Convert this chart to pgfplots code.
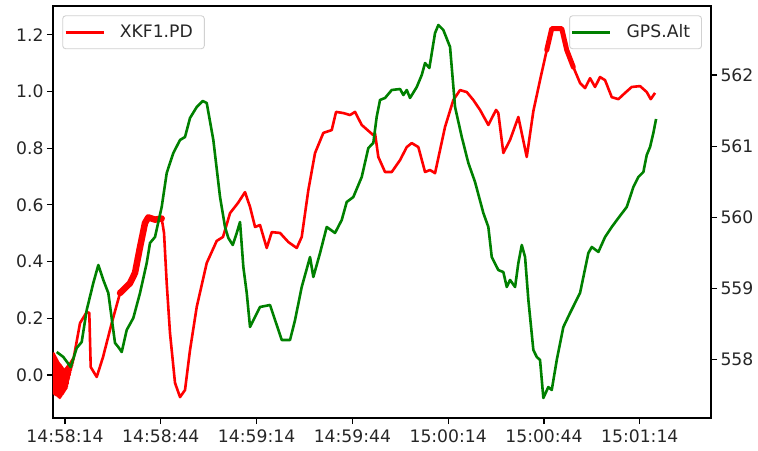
\documentclass[border=0pt]{standalone}
\usepackage{pgfplots}
\pgfplotsset{compat=1.18}
\usepackage{fontspec}
\setmainfont{DejaVu Sans}

\definecolor{mplgreen}{HTML}{008000}

% XKF1.PD, seconds after 14:58:14
\pgfplotstableread{
t v
-3.7 0.080
-3.6 -0.065
-3.5 0.0755
-3.4 -0.067
-3.3 0.071
-3.2 -0.068
-3.1 0.067
-3.0 -0.070
-2.9 0.063
-2.8 -0.071
-2.7 0.059
-2.6 -0.072
-2.5 0.054
-2.4 -0.073
-2.3 0.050
-2.2 -0.075
-2.1 0.046
-2.0 -0.078
-1.9 0.043
-1.8 -0.079
-1.7 0.040
-1.6 -0.081
-1.5 0.037
-1.4 -0.078
-1.3 0.034
-1.2 -0.075
-1.1 0.031
-1.0 -0.071
-0.9 0.028
-0.8 -0.068
-0.7 0.025
-0.6 -0.065
-0.5 0.022
-0.4 -0.061
-0.3 0.019
-0.2 -0.058
-0.1 0.019
0.0 -0.054
0.1 0.022
0.2 -0.051
0.3 0.025
0.4 -0.048
0.5 0.027
0.6 -0.041
0.7 0.030
0.8 -0.031
0.9 0.033
1.0 -0.018
1.1 0.036
1.2 -0.011
1.3 0.038
1.4 -0.001
1.5 0.041
1.6 0.008
1.7 0.044
1.8 0.017
1.9 0.048
2.0 0.025
2.1 0.051
2.2 0.033
2.3 0.055
2.4 0.042
2.5 0.058
2.60 0.053
4.70 0.183
6.80 0.222
7.61 0.219
8.05 0.028
9.93 -0.007
11.90 0.063
14.63 0.183
17.23 0.289
20.36 0.324
21.92 0.360
23.49 0.451
25.05 0.536
26.09 0.556
28.20 0.548
30.28 0.552
31.01 0.501
31.85 0.324
32.88 0.148
34.45 -0.028
36.02 -0.078
37.58 -0.053
39.15 0.088
41.25 0.240
44.38 0.395
47.51 0.473
49.48 0.487
51.68 0.571
54.18 0.607
56.37 0.645
57.94 0.593
59.51 0.522
61.07 0.529
63.17 0.448
64.74 0.504
67.34 0.501
69.94 0.469
72.57 0.448
74.13 0.487
76.20 0.652
78.30 0.783
80.90 0.854
83.53 0.864
84.88 0.928
87.16 0.924
89.26 0.917
90.82 0.928
92.92 0.882
96.55 0.846
97.08 0.853
98.12 0.769
100.22 0.716
102.32 0.716
104.92 0.758
107.02 0.804
108.58 0.818
110.65 0.804
112.75 0.716
114.31 0.723
115.88 0.712
119.01 0.875
121.61 0.970
123.71 1.005
125.81 0.998
127.87 0.970
129.97 0.935
132.57 0.882
134.98 0.935
135.70 0.924
137.27 0.783
139.37 0.829
141.97 0.910
144.60 0.769
146.67 0.931
148.76 1.040
150.86 1.146
152.43 1.222
155.56 1.222
157.13 1.146
159.19 1.086
161.29 1.030
162.86 1.012
164.42 1.047
165.99 1.016
167.55 1.051
169.12 1.040
171.22 0.980
173.29 0.973
175.38 0.995
177.48 1.016
180.08 1.019
182.18 0.998
183.43 0.973
184.78 0.995
}\pdtable

% GPS.Alt, seconds after 14:58:14
\pgfplotstableread{
t a
-2.60 558.108
-0.53 558.038
1.79 557.897
3.66 558.164
5.23 558.249
6.80 558.698
8.86 559.077
10.43 559.330
12.00 559.119
13.56 558.937
15.66 558.235
16.69 558.178
17.76 558.108
19.32 558.417
21.39 558.585
23.49 558.937
25.59 559.358
26.62 559.639
28.19 559.724
30.28 560.145
31.85 560.622
33.92 560.903
36.02 561.086
37.58 561.128
39.15 561.395
41.25 561.549
43.13 561.634
44.38 561.606
46.45 561.086
48.55 560.285
50.11 559.864
51.15 559.710
52.53 559.611
53.78 559.780
54.81 559.934
55.85 559.302
56.91 558.937
57.94 558.459
59.51 558.600
61.07 558.740
64.21 558.768
65.77 558.558
67.87 558.277
70.47 558.277
72.04 558.558
74.13 559.021
76.73 559.442
77.77 559.162
79.87 559.499
81.96 559.864
84.56 559.780
86.66 559.962
88.22 560.215
90.29 560.285
92.92 560.566
94.99 560.973
96.55 561.044
97.60 561.409
98.65 561.648
100.22 561.676
102.32 561.788
104.92 561.802
105.96 561.718
107.02 561.788
108.05 561.676
110.15 561.830
111.72 561.999
112.75 562.167
114.10 562.097
115.88 562.588
116.92 562.701
118.48 562.631
120.58 562.392
122.15 561.549
124.25 561.128
126.31 560.763
128.41 560.495
131.01 560.060
132.57 559.864
133.64 559.442
135.70 559.259
137.27 559.231
138.34 559.021
139.37 559.120
140.94 559.021
141.97 559.358
143.04 559.611
144.07 559.442
145.11 558.838
146.67 558.136
147.74 558.038
148.76 557.996
149.80 557.462
151.36 557.616
152.43 557.574
154.00 557.996
156.06 558.459
158.16 558.656
161.29 558.937
163.90 559.499
164.96 559.583
167.03 559.513
169.12 559.723
171.22 559.864
173.29 559.990
175.92 560.145
177.99 560.426
179.55 560.566
181.12 560.636
182.18 560.875
183.22 560.988
184.25 561.185
185.10 561.381
}\alttable

\pgfplotsset{
  every axis/.append style={
    scale only axis,
    width=658bp, height=412bp,
    xmin=-3.76, xmax=202.3,
    tick align=outside,
    major tick length=6bp,
    tick style={line width=1.2bp, black},
    axis line style={line width=1.2bp},
    tick label style={font=\fontsize{17.2bp}{20bp}\selectfont, text=black!85},
    legend style={
      font=\fontsize{17.2bp}{20bp}\selectfont,
      draw=black!18, line width=0.9bp, rounded corners=3bp,
      fill=white, fill opacity=0.8, text opacity=1,
      inner xsep=1.5bp, inner ysep=4.5bp,
      column sep=12bp,
      nodes={inner xsep=3bp, inner ysep=4bp, text height=13.5bp, text depth=2.5bp, text=black!85},
    },
    legend image code/.code={\draw[#1] (0bp,0bp) -- (38bp,0bp);},
    legend cell align=left,
  },
}

\begin{document}
\begin{tikzpicture}
\begin{axis}[
  name=main,
  ymin=-0.1517, ymax=1.3016,
  xtick={0,30,60,90,120,150,180},
  xticklabels={14:58:14,14:58:44,14:59:14,14:59:44,15:00:14,15:00:44,15:01:14},
  xtick pos=bottom, ytick pos=left,
  ytick={0,0.2,0.4,0.6,0.8,1.0,1.2},
  yticklabels={0.0,0.2,0.4,0.6,0.8,1.0,1.2},
  xticklabel style={yshift=-2bp},
  legend style={at={(0.0141,0.9774)}, anchor=north west},
]
\addplot[red, line width=2.6bp, line join=round] table[x=t, y=v] {\pdtable};
\addlegendentry{XKF1.PD\rule{7bp}{0bp}}
% noisy stretches of the estimate drawn as a wider band
\addplot[red, line width=6.5bp, line join=round, line cap=round, restrict x to domain=15:30.3, forget plot] table[x=t, y=v] {\pdtable};
\addplot[red, line width=5bp, line join=round, line cap=round, restrict x to domain=149:161, forget plot] table[x=t, y=v] {\pdtable};
\end{axis}
\begin{axis}[
  ymin=557.181, ymax=562.968,
  axis x line=none,
  axis y line*=right,
  ytick={558,559,560,561,562},
  yticklabels={558,559,560,561,562},
  ytick pos=right,
  legend style={at={(0.9863,0.9774)}, anchor=north east},
]
\addplot[mplgreen, line width=2.6bp, line join=round] table[x=t, y=a] {\alttable};
\addlegendentry{GPS.Alt\rule{7bp}{0bp}}
\end{axis}
\path ([xshift=-53bp,yshift=-33bp]main.south west) rectangle ([xshift=47bp,yshift=6bp]main.north east);
\end{tikzpicture}
\end{document}
